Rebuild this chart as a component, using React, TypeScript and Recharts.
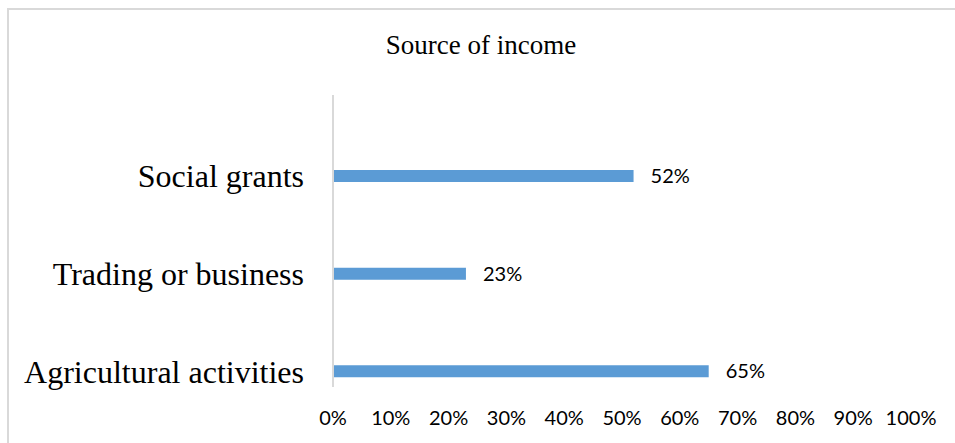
import React from 'react';
import { BarChart, Bar, XAxis, YAxis, LabelList } from 'recharts';

const categories = ['Social grants', 'Trading or business', 'Agricultural activities'];
const shares = [52, 23, 65];
const xTicks = [0, 10, 20, 30, 40, 50, 60, 70, 80, 90, 100];

const data = categories.map((name, i) => ({ name, value: shares[i] }));

const App: React.FC = () => {
  return (
    <div style={{ position: 'absolute', left: 0, top: 0, width: 955, height: 443, background: '#fff', overflow: 'hidden' }}>
      <div
        style={{
          position: 'absolute',
          left: 7,
          top: 8,
          width: 960,
          height: 450,
          borderTop: '2px solid #d9d9d9',
          borderLeft: '2px solid #d9d9d9',
        }}
      />
      <div
        style={{
          position: 'absolute',
          left: 0,
          top: 30,
          width: 962,
          textAlign: 'center',
          fontFamily: '"Liberation Serif", serif',
          fontSize: 27,
          color: '#000',
        }}
      >
        Source of income
      </div>
      <div style={{ position: 'absolute', left: 0, top: 0 }}>
        <BarChart
          width={955}
          height={443}
          data={data}
          layout="vertical"
          margin={{ top: 95, right: 44, bottom: 0, left: 0 }}
        >
          <XAxis
            type="number"
            domain={[0, 100]}
            ticks={xTicks}
            interval={0}
            tickFormatter={(v) => `${v}%`}
            axisLine={false}
            tickLine={false}
            tickSize={0}
            tickMargin={24}
            height={56}
            tick={{ fill: '#000', fontSize: 20, fontFamily: 'Lato, sans-serif' }}
          />
          <YAxis
            type="category"
            dataKey="name"
            width={333}
            padding={{ top: 32, bottom: -33 }}
            axisLine={{ stroke: '#d9d9d9', strokeWidth: 2 }}
            tickLine={false}
            tickSize={0}
            tickMargin={29}
            tick={{ fill: '#000', fontSize: 32, fontFamily: '"Liberation Serif", serif' }}
          />
          <Bar dataKey="value" fill="#5b9bd5" barSize={12} isAnimationActive={false}>
            <LabelList
              dataKey="value"
              position="right"
              offset={17}
              formatter={(v: number) => `${v}%`}
              style={{ fill: '#000', fontSize: 20, fontFamily: 'Lato, sans-serif' }}
            />
          </Bar>
        </BarChart>
      </div>
    </div>
  );
};

export default App;
